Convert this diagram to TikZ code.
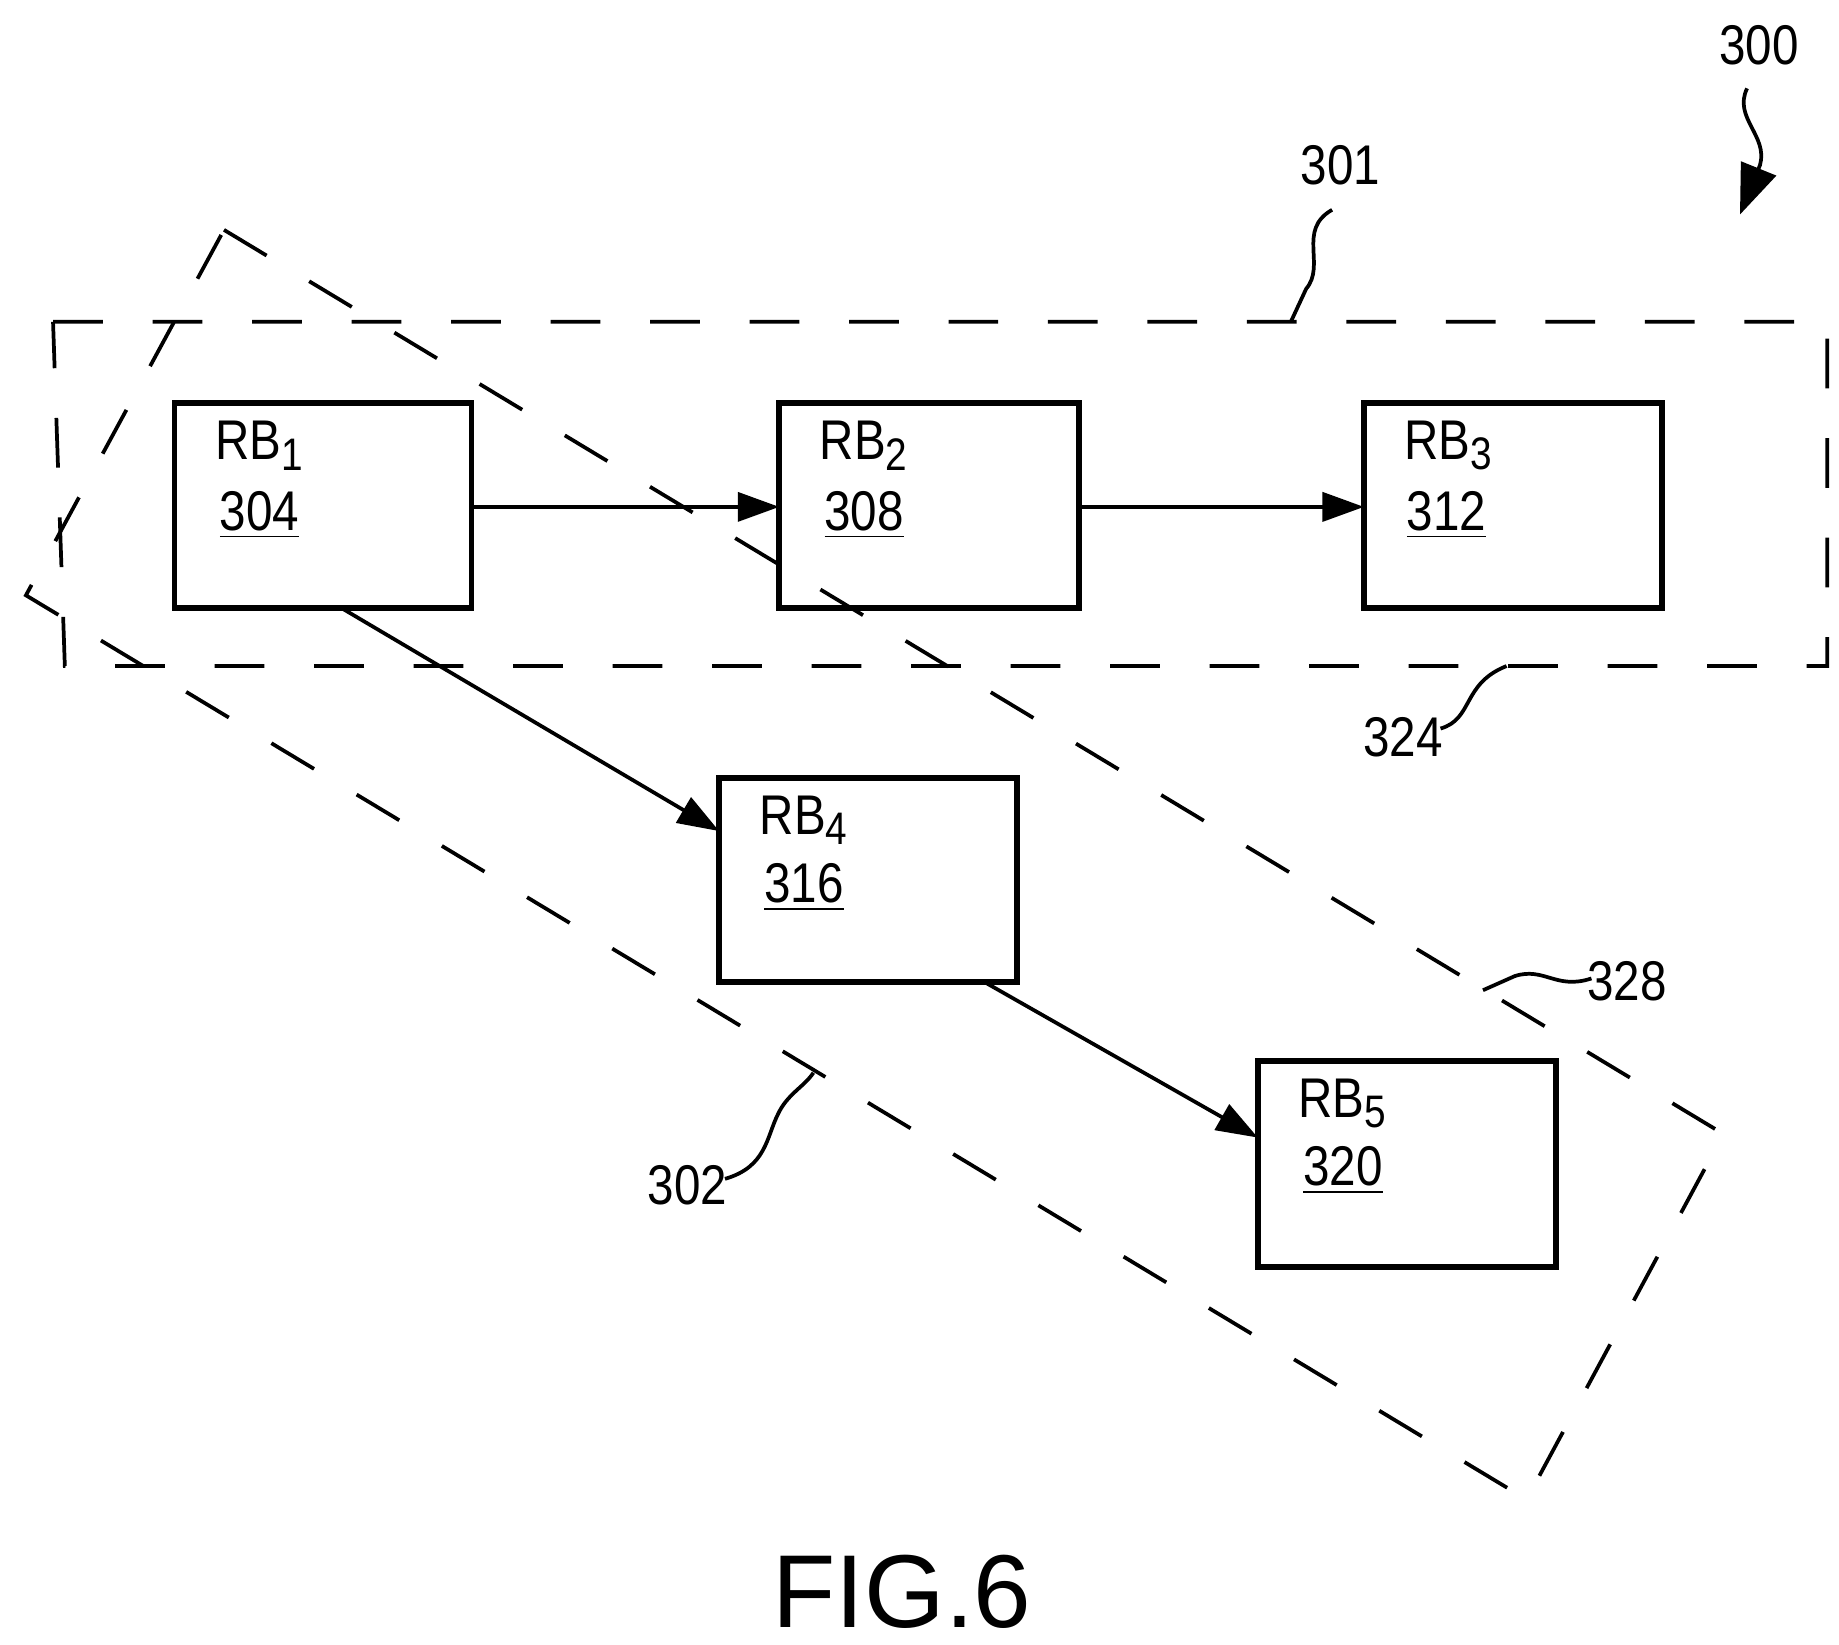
\documentclass[tikz,border=0pt]{standalone}
\usepackage{fontspec}
\setmainfont{Liberation Sans}
\usetikzlibrary{arrows.meta}
\newcommand{\sbs}[1]{\raisebox{-0.35ex}{\fontsize{11}{12}\selectfont #1}}
\begin{document}
\begin{tikzpicture}[x=0.01cm,y=-0.01cm,
  box/.style={draw,line width=1.4pt},
  dsh/.style={draw,line width=0.9pt,dash pattern=on 12pt off 12pt},
  arr/.style={line width=0.9pt,-{Triangle[length=10pt,width=7pt]}},
  sq/.style={line width=0.9pt},
  lab/.style={font=\fontsize{13.5}{16}\selectfont\addfontfeatures{FakeStretch=0.85}}]
\useasboundingbox (0,0) rectangle (1560,1395);
% dashed regions
\draw[dsh] (45,273) -- (1550,273) -- (1550,565) -- (55,565) -- cycle;
\draw[dsh] (190,195) -- (1462,962) -- (1295,1272) -- (22,505) -- cycle;
% boxes
\path[box] (148,342) rectangle (400,516);
\path[box] (661,342) rectangle (915,516);
\path[box] (1157,342) rectangle (1410,516);
\path[box] (610,660) rectangle (863,833);
\path[box] (1067,900) rectangle (1320,1075);
\node[lab,anchor=west] (t1) at (170,378) {RB\sbs{1}};
\node[lab,anchor=west] (n1) at (174,437) {\underline{304}};
\node[lab,anchor=west] (t2) at (683,378) {RB\sbs{2}};
\node[lab,anchor=west] (n2) at (687,437) {\underline{308}};
\node[lab,anchor=west] (t3) at (1179,378) {RB\sbs{3}};
\node[lab,anchor=west] (n3) at (1181,437) {\underline{312}};
\node[lab,anchor=west] (t4) at (632,696) {RB\sbs{4}};
\node[lab,anchor=west] (n4) at (636,753) {\underline{316}};
\node[lab,anchor=west] (t5) at (1089,936) {RB\sbs{5}};
\node[lab,anchor=west] (n5) at (1093,993) {\underline{320}};
\coordinate (a1) at (400,430); \coordinate (a2) at (661,430);
\coordinate (a3) at (915,430); \coordinate (a4) at (1157,430);
\coordinate (a5) at (290,516); \coordinate (a6) at (610,705);
\coordinate (a7) at (835,833); \coordinate (a8) at (1067,965);
\draw[arr] (a1) -- (a2);
\draw[arr] (a3) -- (a4);
\draw[arr] (a5) -- (a6);
\draw[arr] (a7) -- (a8);
% reference labels
\node[lab] (l300) at (1492,38) {300};
\coordinate (p300) at (1476,182);
\draw[sq,-{Triangle[length=12pt,width=9pt]}] (1482,75) .. controls (1470,100) and (1500,115) .. (1493,140) -- (p300);
\node[lab] (l301) at (1137,140) {301};
\coordinate (p301) at (1095,273);
\draw[sq] (1130,178) .. controls (1100,195) and (1125,225) .. (1108,245) -- (p301);
\node[lab] (l324) at (1190,625) {324};
\coordinate (p324) at (1278,565);
\draw[sq] (1222,618) .. controls (1250,610) and (1240,580) .. (p324);
\node[lab] (l328) at (1380,832) {328};
\coordinate (p328) at (1258,840);
\draw[sq] (1350,830) .. controls (1320,840) and (1310,820) .. (1285,828) -- (p328);
\node[lab] (l302) at (583,1005) {302};
\coordinate (p302) at (690,910);
\draw[sq] (615,1000) .. controls (650,990) and (650,965) .. (660,945) .. controls (668,928) and (682,922) .. (p302);
\node[font=\fontsize{25}{30}\selectfont] (fig) at (765,1350) {FIG.6};
\end{tikzpicture}
\end{document}
